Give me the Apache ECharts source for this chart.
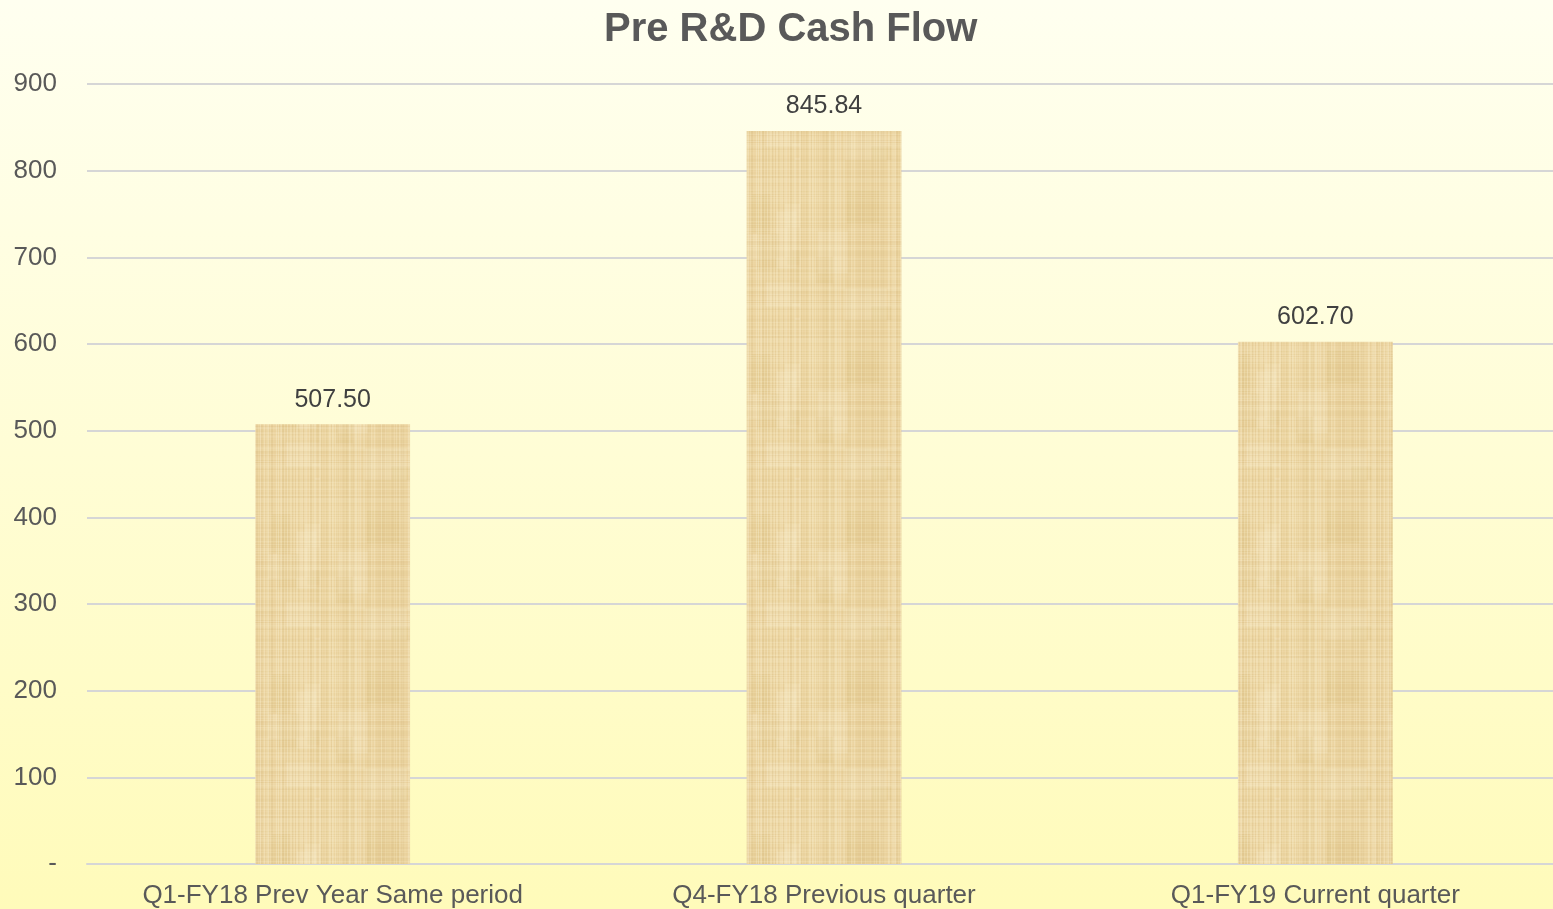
<!DOCTYPE html>
<html>
<head>
<meta charset="utf-8">
<script src="https://cdn.jsdelivr.net/npm/echarts@6/dist/echarts.min.js"></script>
<style>
  html, body { margin: 0; padding: 0; }
  #chart { width: 1553px; height: 909px; }
</style>
</head>
<body>
<div id="chart"></div>
<script>
const categories = ['Q1-FY18 Prev Year Same period', 'Q4-FY18 Previous quarter', 'Q1-FY19 Current quarter']
const cashFlow = [507.50, 845.84, 602.70]
const yTicks = [0, 100, 200, 300, 400, 500, 600, 700, 800, 900]

// papyrus-like woven texture for the bars
const makeTexture = () => {
  const c = document.createElement('canvas')
  c.width = 160
  c.height = 160
  const ctx = c.getContext('2d')
  ctx.fillStyle = '#EDD6A2'
  ctx.fillRect(0, 0, 160, 160)
  const h = (n) => {
    const s = Math.sin(n * 12.9898) * 43758.5453
    return s - Math.floor(s)
  }
  // soft patches
  for (let i = 0; i < 14; i++) {
    const px = h(i + 700) * 160
    const py = h(i + 900) * 160
    ctx.fillStyle = i % 2 ? 'rgba(220,190,125,0.2)' : 'rgba(248,235,200,0.3)'
    ctx.fillRect(px, py, 14 + h(i + 50) * 34, 20 + h(i + 80) * 45)
  }
  // vertical fibres
  for (let x = 0; x < 160; x++) {
    const v = h(x + 1)
    ctx.fillStyle = v > 0.5 ? 'rgba(250,240,210,' + (v - 0.5) * 0.7 + ')' : 'rgba(205,175,115,' + (0.5 - v) * 0.45 + ')'
    ctx.fillRect(x, 0, 1, 160)
  }
  // horizontal fibres
  for (let y = 0; y < 160; y++) {
    const v = h(y + 300)
    ctx.fillStyle = v > 0.5 ? 'rgba(250,240,210,' + (v - 0.5) * 0.45 + ')' : 'rgba(200,170,110,' + (0.5 - v) * 0.25 + ')'
    ctx.fillRect(0, y, 160, 1)
  }
  return c
}

const chart = echarts.init(document.getElementById('chart'), null, { renderer: 'canvas' })

const option = {
  animation: false,
  backgroundColor: {
    type: 'linear', x: 0, y: 0, x2: 0, y2: 1,
    colorStops: [
      { offset: 0, color: '#FFFFF0' },
      { offset: 1, color: '#FFFBBA' }
    ]
  },
  title: {
    text: 'Pre R&D Cash Flow',
    left: 599,
    top: 5,
    textStyle: {
      fontFamily: 'Liberation Sans',
      fontSize: 40,
      fontWeight: 'bold',
      color: '#595959'
    }
  },
  grid: {
    left: 87,
    width: 1474,
    top: 84,
    bottom: 45,
    outerBoundsMode: 'none'
  },
  xAxis: {
    type: 'category',
    data: categories,
    axisLine: { lineStyle: { color: '#D6D6D6', width: 2 } },
    axisTick: { show: false },
    axisLabel: {
      interval: 0,
      hideOverlap: false,
      fontFamily: 'Liberation Sans',
      fontSize: 26,
      color: '#595959',
      margin: 19
    }
  },
  yAxis: {
    type: 'value',
    min: yTicks[0],
    max: yTicks[yTicks.length - 1],
    interval: 100,
    axisLine: { show: false },
    axisTick: { show: false },
    splitLine: { lineStyle: { color: '#D6D6D6', width: 2 } },
    axisLabel: {
      fontFamily: 'Liberation Sans',
      fontSize: 26,
      color: '#595959',
      margin: 30,
      formatter: (v) => (v === 0 ? '-' : String(v))
    }
  },
  series: [
    {
      type: 'bar',
      data: cashFlow,
      barWidth: '31.5%',
      itemStyle: {
        color: { image: makeTexture(), repeat: 'repeat' }
      },
      label: {
        show: true,
        position: 'top',
        distance: 12,
        fontFamily: 'Liberation Sans',
        fontSize: 25,
        color: '#404040',
        formatter: (p) => p.value.toFixed(2)
      }
    }
  ]
}

chart.setOption(option)
</script>
</body>
</html>
